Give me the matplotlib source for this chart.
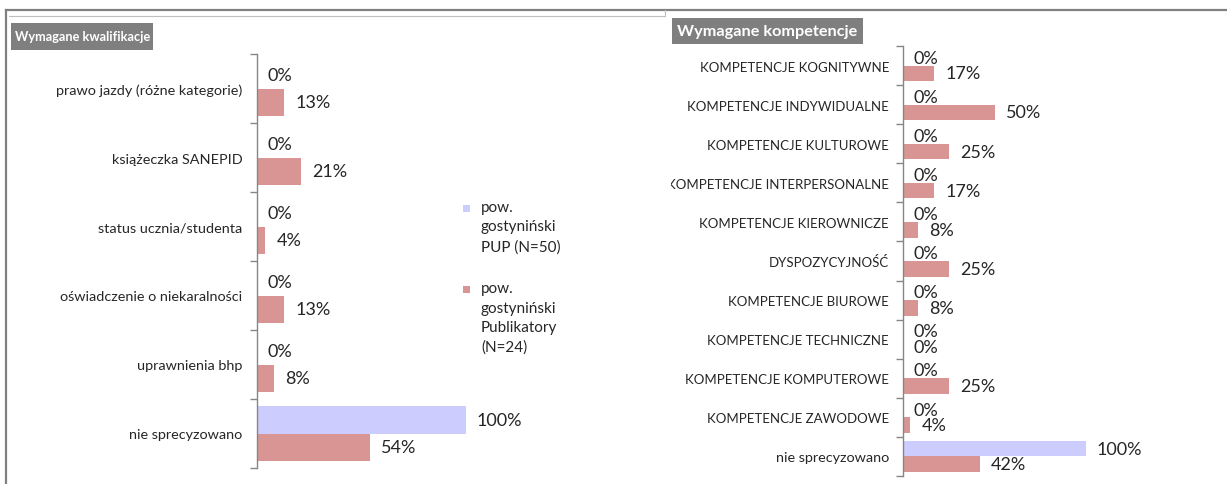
import matplotlib
matplotlib.use("Agg")
import matplotlib.pyplot as plt
from matplotlib.lines import Line2D
from matplotlib.patches import Rectangle
from matplotlib.transforms import Bbox, TransformedBbox

# ---------------- data ----------------
series_names = ["pow.\ngostyniński\nPUP (N=50)", "pow.\ngostyniński\nPublikatory\n(N=24)"]

left_title = "Wymagane kwalifikacje"
left_categories = ["prawo jazdy (różne kategorie)", "książeczka SANEPID", "status ucznia/studenta",
                   "oświadczenie o niekaralności", "uprawnienia bhp", "nie sprecyzowano"]
left_pup = [0, 0, 0, 0, 0, 100]
left_pub = [13, 21, 4, 13, 8, 54]

right_title = "Wymagane kompetencje"
right_categories = ["KOMPETENCJE KOGNITYWNE", "KOMPETENCJE INDYWIDUALNE", "KOMPETENCJE KULTUROWE",
                    "KOMPETENCJE INTERPERSONALNE", "KOMPETENCJE KIEROWNICZE", "DYSPOZYCYJNOŚĆ",
                    "KOMPETENCJE BIUROWE", "KOMPETENCJE TECHNICZNE", "KOMPETENCJE KOMPUTEROWE",
                    "KOMPETENCJE ZAWODOWE", "nie sprecyzowano"]
right_pup = [0, 0, 0, 0, 0, 0, 0, 0, 0, 0, 100]
right_pub = [17, 50, 25, 17, 8, 25, 8, 0, 25, 4, 42]

# ---------------- style ----------------
plt.rcParams['font.family'] = ['Lato', 'DejaVu Sans']
W, H = 1227, 485
DPI = 100
C_BLUE = "#CCCCFF"
C_RED = "#D99594"
C_AXIS = "#868686"
C_TEXT = "#262626"
C_TITLE = "#7F7F7F"

fig = plt.figure(figsize=(W / DPI, H / DPI), dpi=DPI)


def px_rect(x0, y_top, x1, y_bot):
    return [x0 / W, (H - y_bot) / H, (x1 - x0) / W, (y_bot - y_top) / H]


def draw_chart(rect, cats, pup, pub, cat_fs, lab_fs, pad_pt, clip_left=None):
    ax = fig.add_axes(rect)
    n = len(cats)
    ys = list(range(n))
    h = 0.4
    ax.barh([y - h / 2 for y in ys], [v / 100 for v in pup], height=h, color=C_BLUE, edgecolor='none')
    ax.barh([y + h / 2 for y in ys], [v / 100 for v in pub], height=h, color=C_RED, edgecolor='none')
    ax.set_xlim(0, 1)
    ax.set_ylim(n - 0.5, -0.5)
    for s in ['top', 'right', 'bottom']:
        ax.spines[s].set_visible(False)
    ax.spines['left'].set_color(C_AXIS)
    ax.spines['left'].set_linewidth(1.0)
    ax.set_xticks([])
    ax.set_yticks(ys)
    ax.set_yticklabels(cats, fontsize=cat_fs, color=C_TEXT)
    for t in ax.get_yticklabels():
        if t.get_text().islower():
            t.set_fontsize(10.4)
    ax.tick_params(axis='y', which='major', length=0, pad=pad_pt)
    ax.set_yticks([y - 0.5 for y in range(n + 1)], minor=True)
    ax.tick_params(axis='y', which='minor', length=5, color=C_AXIS, width=1.0)
    for y, v in zip(ys, pup):
        ax.annotate(f"{v}%", (v / 100, y - h / 2), xytext=(11, 0), textcoords='offset pixels',
                    va='center', ha='left', fontsize=lab_fs, color=C_TEXT, annotation_clip=False)
    for y, v in zip(ys, pub):
        ax.annotate(f"{v}%", (v / 100, y + h / 2), xytext=(11, 0), textcoords='offset pixels',
                    va='center', ha='left', fontsize=lab_fs, color=C_TEXT, annotation_clip=False)
    ax.patch.set_visible(False)
    if clip_left is not None:
        bb = TransformedBbox(Bbox([[clip_left / W, 0], [1, 1]]), fig.transFigure)
        for t in ax.get_yticklabels():
            t.set_clip_on(True)
            t.set_clip_box(bb)
    return ax


ax1 = draw_chart(px_rect(257, 55, 466, 469), left_categories, left_pup, left_pub, 10.4, 13, 10.5)
ax2 = draw_chart(px_rect(903, 47, 1086, 477), right_categories, right_pup, right_pub, 9.5, 13, 10,
                 clip_left=671)

# titles (gray boxes)
fig.add_artist(Rectangle((11 / W, (H - 51) / H), 142 / W, 27 / H, transform=fig.transFigure,
                         facecolor=C_TITLE, edgecolor='none'))
fig.text(82.5 / W, (H - 37.5) / H, left_title, ha='center', va='center', color='white',
         fontsize=9.2, fontweight='bold')
fig.add_artist(Rectangle((672 / W, (H - 45) / H), 191 / W, 26 / H, transform=fig.transFigure,
                         facecolor=C_TITLE, edgecolor='none'))
fig.text(767.5 / W, (H - 32) / H, right_title, ha='center', va='center', color='white',
         fontsize=11.7, fontweight='bold')

# legend (manual)
leg_items = [(209, C_BLUE, series_names[0]), (290, C_RED, series_names[1])]
for ytop, col, name in leg_items:
    fig.add_artist(Rectangle((463 / W, (H - ytop - 4) / H), 7 / W, 7 / H, transform=fig.transFigure,
                             facecolor=col, edgecolor='none'))
    fig.text(481 / W, (H - ytop + 8) / H, name, ha='left', va='top', color=C_TEXT,
             fontsize=11, linespacing=1.5)

# frame lines
fig.add_artist(Line2D([6 / W, 1], [(H - 11) / H] * 2, transform=fig.transFigure, color="#808080", lw=1.6))
fig.add_artist(Line2D([6 / W, 6 / W], [0, (H - 11) / H], transform=fig.transFigure, color="#808080", lw=1.6))
fig.add_artist(Line2D([9 / W, 665 / W], [(H - 17) / H] * 2, transform=fig.transFigure, color="#BFBFBF", lw=0.8))
fig.add_artist(Line2D([665 / W, 665 / W], [(H - 17) / H, (H - 11) / H], transform=fig.transFigure, color="#BFBFBF", lw=0.8))

fig.savefig("out.png", dpi=DPI)
